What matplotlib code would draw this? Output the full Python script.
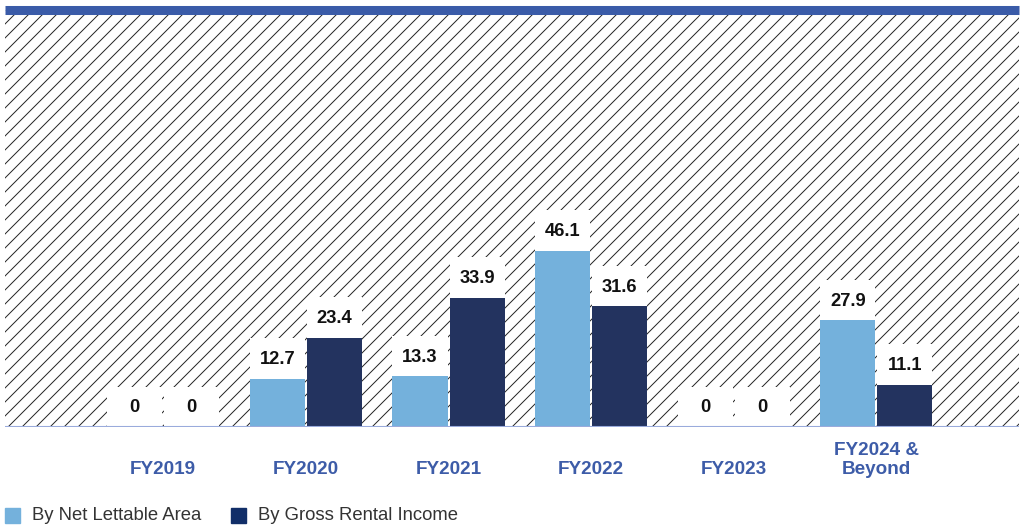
import matplotlib
matplotlib.use("Agg")
import matplotlib.pyplot as plt
import numpy as np
from matplotlib.patches import Rectangle
from matplotlib.collections import LineCollection

# Lease expiry profile (%)
categories = ["FY2019", "FY2020", "FY2021", "FY2022", "FY2023", "FY2024 &\nBeyond"]
net_lettable_area = [0, 12.7, 13.3, 46.1, 0, 27.9]
gross_rental_income = [0, 23.4, 33.9, 31.6, 0, 11.1]
series_names = ["By Net Lettable Area", "By Gross Rental Income"]

LIGHT = "#74b1dc"
DARK = "#23335f"
LEGEND_DARK = "#112e68"
BAND = "#3a5ba8"
CAT_COLOR = "#3d5ca8"

W, H = 1024, 527
fig = plt.figure(figsize=(W / 100, H / 100), dpi=100)
fig.patch.set_facecolor("white")

plt.rcParams["font.family"] = ["Liberation Sans", "DejaVu Sans"]

# plot area in pixel terms
left_px, right_px, top_px, base_px = 5, 1019, 10, 427
ax_rect = [left_px / W, 1 - base_px / H, (right_px - left_px) / W, (base_px - top_px) / H]

# background axes carrying the diagonal hatching
bg = fig.add_axes(ax_rect, zorder=0)
bg.set_xlim(0, right_px - left_px)
bg.set_ylim(0, base_px - top_px)
bg.axis("off")
wpx, hpx = right_px - left_px, base_px - top_px
segs = []
for x0 in np.arange(-hpx, wpx + 14, 14):
    segs.append([(x0, 0), (x0 + hpx, hpx)])
lc = LineCollection(segs, colors="#222222", linewidths=0.7)
lc.set_clip_path(Rectangle((0, 0), 1, 1, transform=bg.transAxes))
bg.add_collection(lc)

ax = fig.add_axes(ax_rect, zorder=1)
ax.patch.set_alpha(0)

x = np.arange(len(categories))
bw = 0.386
off = 0.2
px_per_unit = 3.818
ax.set_xlim(-1.11, 6.0)
ax.set_ylim(0, (base_px - top_px) / px_per_unit)

box_h = 40.5 / px_per_unit
label_off = 19 / px_per_unit

for vals, dx, col in [(net_lettable_area, -off, LIGHT), (gross_rental_income, off, DARK)]:
    ax.bar(x + dx, [v + box_h for v in vals], width=bw, color="white", zorder=2)
    ax.bar(x + dx, vals, width=bw, color=col, zorder=3)
    for xi, v in zip(x, vals):
        txt = f"{v:.1f}" if v else "0"
        ax.text(xi + dx, v + label_off, txt, ha="center", va="center",
                fontsize=13.2, fontweight="bold", color="#111111", zorder=4)

for s in ["left", "right", "bottom"]:
    ax.spines[s].set_visible(False)
ax.spines["top"].set_color(BAND)
ax.spines["top"].set_linewidth(6.5)
ax.spines["top"].set_capstyle("butt")
ax.axhline(0, color="#9aabdc", linewidth=1.5, zorder=5)

# category labels, bottom-aligned so the last line of each sits on one baseline
ax.set_xticks([])
ax.set_yticks([])
cat_y = (base_px - 478.5) / (base_px - top_px)
for xi, name in zip(x, categories):
    ax.text(xi, cat_y, name, transform=ax.get_xaxis_transform(), ha="center", va="bottom",
            multialignment="center", fontsize=13.6, fontweight="bold", color=CAT_COLOR,
            linespacing=1.22)

# legend row
sq = 15
for (xp, col, name, tx) in [(5, LIGHT, series_names[0], 32), (231, LEGEND_DARK, series_names[1], 258)]:
    fig.patches.append(Rectangle((xp / W, 1 - 523 / H), sq / W, sq / H,
                                 transform=fig.transFigure, color=col, figure=fig))
    fig.text(tx / W, 1 - 516 / H, name, fontsize=13.3, color="#333333", va="center", ha="left")

fig.savefig("out.png", dpi=100, facecolor="white")
